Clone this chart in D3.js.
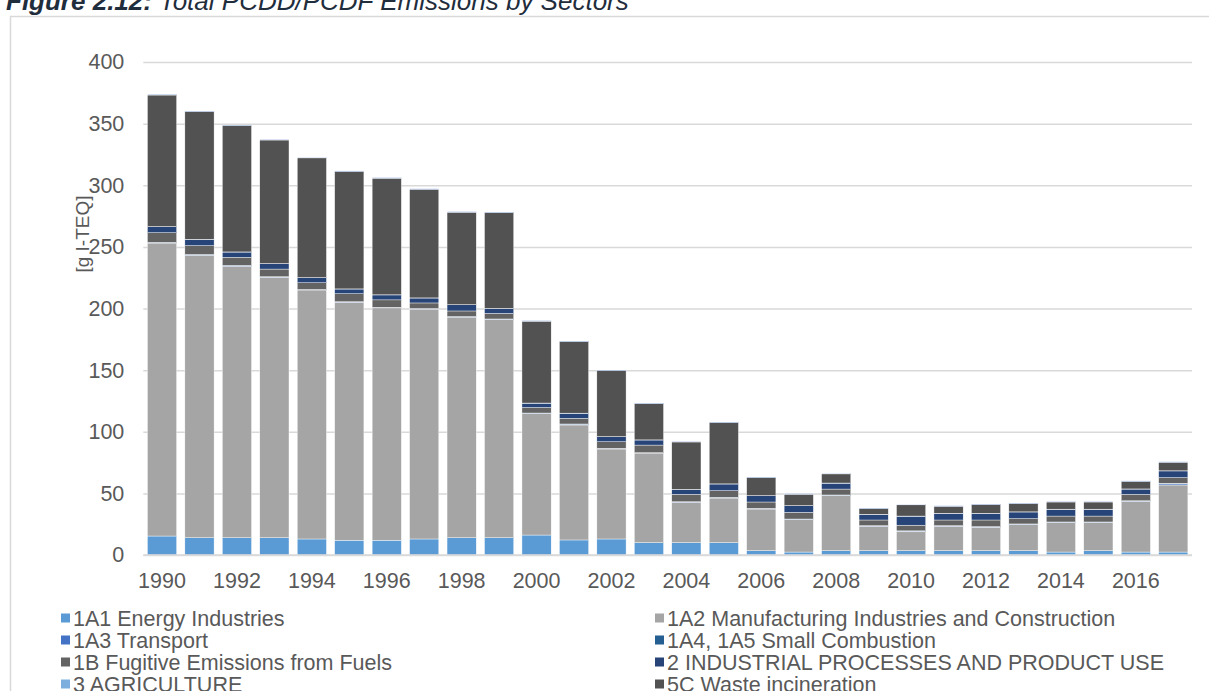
<!DOCTYPE html>
<html>
<head>
<meta charset="utf-8">
<script src="https://cdn.jsdelivr.net/npm/d3@7"></script>
<style>
  html, body { margin: 0; padding: 0; background: #fff; overflow: hidden; }
  svg { display: block; }
</style>
</head>
<body>
<div id="chart"></div>
<script>
// ── Data (g I-TEQ) ──────────────────────────────────────────
const years = d3.range(1990, 2018);

const energy      = [15.4, 14, 14, 14, 13, 12, 12, 13, 14, 14, 16.2, 12.2, 13, 10, 10, 10, 3.5, 2.4, 3.5, 3.5, 3.5, 3.5, 3.5, 3.5, 2.4, 3.5, 2.4, 2.4];
const manufact    = [237.7, 229.2, 220.2, 211.3, 202, 193, 188.5, 186.5, 179, 177, 98.5, 93.3, 73, 72.7, 32.7, 36.2, 33.8, 26.3, 44.7, 19.8, 15.3, 19.8, 19, 21.2, 23.9, 22.8, 41.1, 54.4];
const transport   = [0.4, 0.4, 0.5, 0.3, 0.3, 0.3, 0.3, 0.3, 0.3, 0.3, 0.3, 0.5, 0.4, 0.2, 0.3, 0.4, 0.4, 0.3, 0.3, 0.3, 0.5, 0.3, 0.3, 0.3, 0.3, 0.3, 0.3, 0.9];
const smallComb   = [0.2, 0.3, 0.3, 0.2, 0.2, 0.2, 0.2, 0.2, 0.2, 0.2, 0.2, 0.3, 0.2, 0.1, 0.2, 0.2, 0.2, 0.2, 0.2, 0.2, 0.3, 0.2, 0.2, 0.2, 0.2, 0.2, 0.2, 0.5];
const fugitive    = [7.8, 7.1, 6.5, 6.2, 5.4, 6.5, 6, 4.5, 4.5, 4.5, 4.5, 4.6, 5.3, 6.2, 6, 5.4, 5.1, 5.4, 4.8, 4.6, 4.6, 4.6, 5.4, 4.3, 4.8, 4.8, 5.2, 4.6];
const industrial  = [4.9, 5.1, 4.3, 4.4, 4.1, 3.8, 4, 4, 5, 4, 3.5, 4.1, 4.1, 4.1, 4, 5.4, 5.1, 5.4, 4.8, 4.6, 7.3, 5.4, 5.4, 5.4, 5.5, 5.5, 4.3, 5.4];
const agriculture = [0.1, 0.1, 0.1, 0.1, 0.1, 0.1, 0.1, 0.1, 0.1, 0.1, 0.1, 0.1, 0.1, 0.1, 0.1, 0.1, 0.1, 0.1, 0.1, 0.1, 0.1, 0.1, 0.1, 0.1, 0.1, 0.1, 0.1, 0.1];
const incineration= [106.7, 103.5, 102.4, 100.2, 97.1, 95.3, 94.6, 88.1, 75, 77.6, 66.4, 58, 53.6, 29.3, 38.4, 49.7, 14.6, 9.2, 7.4, 4.5, 9.1, 5.6, 6.9, 6.6, 5.8, 5.8, 6.1, 6.9];
const otherWaste  = [0.5, 0.4, 0.4, 0.4, 0.4, 0.4, 0.4, 0.4, 0.4, 0.4, 0.4, 0.4, 0.4, 0.4, 0.4, 0.4, 0.4, 0.4, 0.4, 0.4, 0.4, 0.4, 0.4, 0.4, 0.4, 0.4, 0.4, 0.4];

const seriesNames = [
  '1A1 Energy Industries',
  '1A2 Manufacturing Industries and Construction',
  '1A3 Transport',
  '1A4, 1A5 Small Combustion',
  '1B Fugitive Emissions from Fuels',
  '2 INDUSTRIAL PROCESSES AND PRODUCT USE',
  '3 AGRICULTURE',
  '5C Waste incineration',
  '5 Other waste'
];
const seriesValues = [energy, manufact, transport, smallComb, fugitive, industrial, agriculture, incineration, otherWaste];
const seriesColors = ['#5b9bd5', '#a5a5a5', '#4472c4', '#255e91', '#636363', '#264478', '#7cafdd', '#525252', '#4472c4'];

const yTicks = [0, 50, 100, 150, 200, 250, 300, 350, 400];
const xTickYears = years.filter(y => y % 2 === 0 && y <= 2016);

// ── Layout ──────────────────────────────────────────────────
const width = 1209, height = 691;
const plot = { left: 143.3, right: 1192, top: 62, bottom: 555 };
const font = '"Liberation Sans", Arial, sans-serif';
const textCol = '#595959';
const fs = '21.5px';

const rows = years.map((yr, i) => {
  const r = { year: yr };
  seriesNames.forEach((n, k) => { r[n] = seriesValues[k][i]; });
  return r;
});

const svg = d3.select('#chart')
  .append('svg')
  .attr('width', width)
  .attr('height', height);

// ── Title (cut off at top) ──────────────────────────────────
const title = svg.append('text')
  .attr('x', 6)
  .attr('y', 10)
  .attr('font-family', font)
  .attr('font-size', '26px')
  .attr('font-style', 'italic')
  .attr('fill', '#1f2d3d');
title.append('tspan').attr('font-weight', 'bold').text('Figure 2.12: ');
title.append('tspan').text('Total PCDD/PCDF Emissions by Sectors');

// ── Frame ───────────────────────────────────────────────────
svg.append('rect')
  .attr('x', 10.5).attr('y', 16.5)
  .attr('width', 1240).attr('height', 720)
  .attr('fill', '#fff')
  .attr('stroke', '#d9d9d9')
  .attr('stroke-width', 1.5);

// ── Scales ──────────────────────────────────────────────────
const x = d3.scaleBand()
  .domain(years)
  .range([plot.left, plot.right])
  .paddingInner(0.22)
  .paddingOuter(0.11);

const y = d3.scaleLinear()
  .domain([0, 400])
  .range([plot.bottom, plot.top]);

// ── Gridlines ───────────────────────────────────────────────
svg.append('g')
  .attr('transform', `translate(${plot.left},0)`)
  .call(d3.axisLeft(y)
    .tickValues(yTicks)
    .tickSize(-(plot.right - plot.left))
    .tickFormat('')
  )
  .call(g => g.select('.domain').remove())
  .selectAll('line')
  .attr('stroke', '#d9d9d9')
  .attr('stroke-width', 1.5);

// ── Stacked bars ────────────────────────────────────────────
const stack = d3.stack().keys(seriesNames);
const layers = stack(rows);

svg.append('g')
  .selectAll('g')
  .data(layers)
  .join('g')
  .attr('fill', (d, i) => seriesColors[i])
  .selectAll('rect')
  .data(d => d)
  .join('rect')
  .attr('x', d => x(d.data.year))
  .attr('width', x.bandwidth())
  .attr('y', d => y(d[1]))
  .attr('height', d => y(d[0]) - y(d[1]))
  .attr('stroke', '#fff')
  .attr('stroke-width', 0.4);

// ── Axes ────────────────────────────────────────────────────
svg.append('line')
  .attr('x1', plot.left).attr('x2', plot.right)
  .attr('y1', y(0)).attr('y2', y(0))
  .attr('stroke', '#d9d9d9')
  .attr('stroke-width', 1.5);

const yAxis = svg.append('g')
  .attr('transform', `translate(${plot.left},0)`)
  .call(d3.axisLeft(y).tickValues(yTicks).tickSize(0).tickPadding(19));
yAxis.select('.domain').remove();
yAxis.selectAll('text')
  .attr('fill', textCol)
  .attr('font-family', font)
  .attr('font-size', fs);

const xAxis = svg.append('g')
  .attr('transform', `translate(0,${plot.bottom})`)
  .call(d3.axisBottom(x).tickValues(xTickYears).tickSize(0).tickPadding(18));
xAxis.select('.domain').remove();
xAxis.selectAll('text')
  .attr('fill', textCol)
  .attr('font-family', font)
  .attr('font-size', fs);

// ── Y axis label ────────────────────────────────────────────
svg.append('text')
  .attr('transform', 'rotate(-90)')
  .attr('x', -234)
  .attr('y', 89)
  .attr('text-anchor', 'middle')
  .attr('fill', textCol)
  .attr('font-family', font)
  .attr('font-size', '19px')
  .text('[g I-TEQ]');

// ── Legend ──────────────────────────────────────────────────
const legend = svg.append('g');
seriesNames.forEach((name, i) => {
  const col = i % 2, row = Math.floor(i / 2);
  const lx = col === 0 ? 61 : 655;
  const ly = 618 + row * 22;
  legend.append('rect')
    .attr('x', lx).attr('y', ly - 4.5)
    .attr('width', 9).attr('height', 9)
    .attr('fill', seriesColors[i]);
  legend.append('text')
    .attr('x', lx + 12)
    .attr('y', ly + 7.5)
    .attr('fill', textCol)
    .attr('font-family', font)
    .attr('font-size', fs)
    .text(name);
});
</script>
</body>
</html>
